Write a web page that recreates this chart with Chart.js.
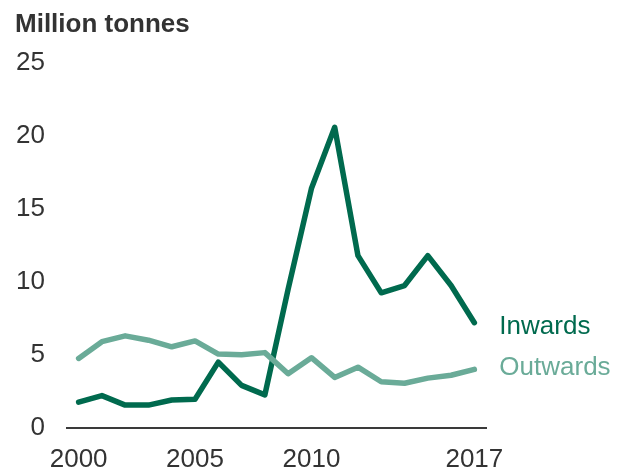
<!DOCTYPE html>
<html>
<head>
<meta charset="utf-8">
<script src="https://cdn.jsdelivr.net/npm/chart.js@4"></script>
<style>
  html, body { margin: 0; padding: 0; background: #fff; }
  #wrap { width: 624px; height: 471px; }
</style>
</head>
<body>
<div id="wrap"><canvas id="chart"></canvas></div>
<script>
// data
const years = [2000, 2001, 2002, 2003, 2004, 2005, 2006, 2007, 2008, 2009, 2010, 2011, 2012, 2013, 2014, 2015, 2016, 2017];
const inwards = [1.75, 2.2, 1.55, 1.55, 1.9, 1.95, 4.5, 2.9, 2.25, 9.5, 16.4, 20.6, 11.8, 9.25, 9.75, 11.8, 9.75, 7.2];
const outwards = [4.75, 5.9, 6.3, 6.0, 5.55, 5.95, 5.05, 5.0, 5.15, 3.7, 4.8, 3.45, 4.15, 3.15, 3.05, 3.4, 3.6, 4.0];
const xTicks = [2000, 2005, 2010, 2017];
const yTicks = [0, 5, 10, 15, 20, 25];

const darkGreen = "#006a4e";
const lightGreen = "#6aab98";
const textCol = "#333333";
const fontFam = "'Liberation Sans', Arial, Helvetica, sans-serif";

// end-of-line labels instead of a legend
const endLabels = {
  id: "endLabels",
  afterDatasetsDraw(chart) {
    const ctx = chart.ctx;
    ctx.save();
    ctx.font = "26px " + fontFam;
    ctx.textAlign = "left";
    ctx.textBaseline = "middle";
    chart.data.datasets.forEach((ds, i) => {
      const meta = chart.getDatasetMeta(i);
      const last = meta.data[meta.data.length - 1];
      ctx.fillStyle = ds.borderColor;
      ctx.fillText(ds.label, last.x + 25, last.y + ds.labelShift);
    });
    ctx.restore();
  }
};

const toPoints = (vals) => vals.map((v, i) => ({ x: years[i], y: v }));

new Chart(document.getElementById("chart"), {
  type: "line",
  data: {
    datasets: [
      {
        label: "Inwards",
        data: toPoints(inwards),
        borderColor: darkGreen,
        borderWidth: 5.5,
        pointRadius: 0,
        borderJoinStyle: "round",
        borderCapStyle: "round",
        tension: 0,
        order: 1,
        labelShift: 4
      },
      {
        label: "Outwards",
        data: toPoints(outwards),
        borderColor: lightGreen,
        borderWidth: 5.5,
        pointRadius: 0,
        borderJoinStyle: "round",
        borderCapStyle: "round",
        tension: 0,
        order: 0,
        labelShift: -2
      }
    ]
  },
  options: {
    responsive: true,
    maintainAspectRatio: false,
    animation: false,
    layout: { padding: { left: 15, right: 138, top: 0, bottom: 0 } },
    plugins: {
      legend: { display: false },
      tooltip: { enabled: false },
      title: {
        display: true,
        text: "Million tonnes",
        align: "start",
        color: textCol,
        font: { family: fontFam, size: 26, weight: "bold", lineHeight: 1.2 },
        padding: { top: 9, bottom: 23 }
      }
    },
    scales: {
      x: {
        type: "linear",
        min: 1999.5,
        max: 2017.5,
        grid: { display: false, drawTicks: false },
        border: { display: true, color: "#3a3a3a", width: 2 },
        afterBuildTicks: (scale) => {
          scale.ticks = xTicks.map((v) => ({ value: v }));
        },
        afterFit: (scale) => { scale.height = 43.3; },
        ticks: {
          color: textCol,
          font: { family: fontFam, size: 26, lineHeight: 1 },
          padding: 19,
          maxRotation: 0,
          autoSkip: false,
          callback: (v) => String(v)
        }
      },
      y: {
        min: 0,
        max: 25,
        grid: { display: false, drawTicks: false },
        border: { display: false },
        afterBuildTicks: (scale) => {
          scale.ticks = yTicks.map((v) => ({ value: v }));
        },
        afterFit: (scale) => { scale.width = 52; },
        ticks: {
          color: textCol,
          font: { family: fontFam, size: 26 },
          padding: 22
        }
      }
    }
  },
  plugins: [endLabels]
});
</script>
</body>
</html>
